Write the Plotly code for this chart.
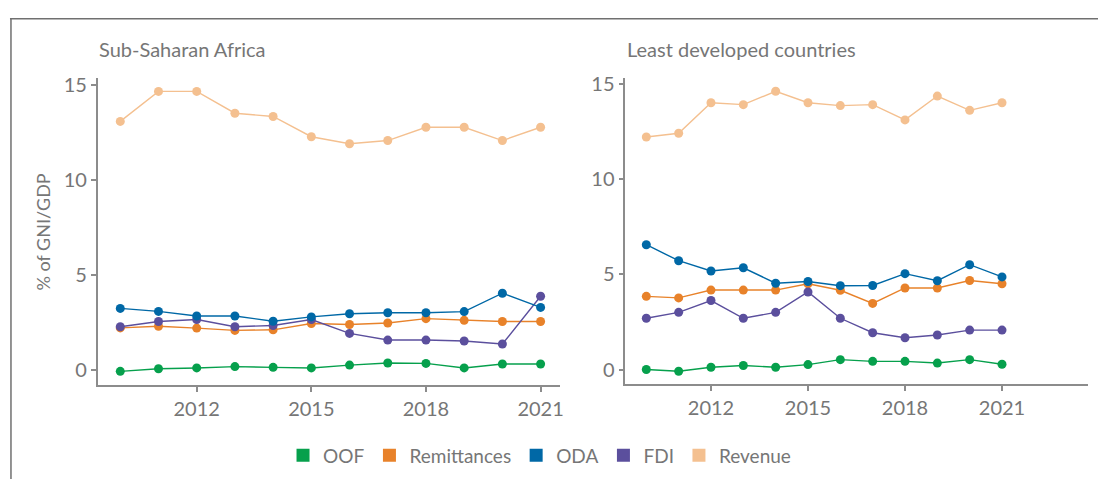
import plotly.graph_objects as go

years = list(range(2010, 2022))

series_names = ["OOF", "Remittances", "ODA", "FDI", "Revenue"]
colors = {"OOF": "#06a04c", "Remittances": "#e8822a", "ODA": "#0068a6",
          "FDI": "#5b4f9d", "Revenue": "#f4c090"}

# Sub-Saharan Africa
ssa_oof = [-0.09, 0.05, 0.09, 0.16, 0.12, 0.09, 0.24, 0.35, 0.33, 0.09, 0.30, 0.30]
ssa_rem = [2.20, 2.29, 2.19, 2.07, 2.10, 2.43, 2.38, 2.46, 2.69, 2.60, 2.54, 2.54]
ssa_oda = [3.23, 3.07, 2.83, 2.83, 2.55, 2.78, 2.95, 3.00, 3.00, 3.06, 4.03, 3.28]
ssa_fdi = [2.26, 2.54, 2.64, 2.26, 2.33, 2.64, 1.91, 1.56, 1.56, 1.51, 1.35, 3.87]
ssa_rev = [13.09, 14.67, 14.67, 13.52, 13.35, 12.28, 11.91, 12.08, 12.78, 12.78, 12.08, 12.78]

# Least developed countries
ldc_oof = [0.00, -0.09, 0.12, 0.21, 0.12, 0.26, 0.52, 0.43, 0.43, 0.34, 0.52, 0.28]
ldc_rem = [3.84, 3.76, 4.17, 4.17, 4.17, 4.50, 4.16, 3.47, 4.28, 4.28, 4.67, 4.50]
ldc_oda = [6.55, 5.71, 5.17, 5.34, 4.53, 4.62, 4.40, 4.41, 5.03, 4.66, 5.50, 4.86]
ldc_fdi = [2.69, 3.00, 3.62, 2.69, 3.00, 4.07, 2.69, 1.93, 1.67, 1.81, 2.07, 2.07]
ldc_rev = [12.20, 12.40, 14.00, 13.90, 14.60, 14.00, 13.85, 13.90, 13.10, 14.35, 13.60, 14.00]

x_ticks = [2012, 2015, 2018, 2021]
y_ticks = [0, 5, 10, 15]

panels = [
    ("Sub-Saharan Africa", {"OOF": ssa_oof, "Remittances": ssa_rem, "ODA": ssa_oda,
                            "FDI": ssa_fdi, "Revenue": ssa_rev}, "x", "y"),
    ("Least developed countries", {"OOF": ldc_oof, "Remittances": ldc_rem, "ODA": ldc_oda,
                                   "FDI": ldc_fdi, "Revenue": ldc_rev}, "x2", "y2"),
]

W, H = 1101, 479
FONT = "Lato"
GREY = "#767676"
AXGREY = "#8c8c8c"

fig = go.Figure()
draw_order = ["Revenue", "OOF", "Remittances", "FDI", "ODA"]
for title, data, xa, ya in panels:
    for name in draw_order:
        fig.add_trace(go.Scatter(
            x=years, y=data[name], mode="lines+markers", name=name,
            xaxis=xa, yaxis=ya, showlegend=False,
            line=dict(color=colors[name], width=1.4),
            marker=dict(color=colors[name], size=9),
            hoverinfo="x+y+name"))

# legend entries (square swatches)
for name in series_names:
    fig.add_trace(go.Scatter(
        x=[None], y=[None], mode="markers", name=name, showlegend=True,
        marker=dict(color=colors[name], size=13, symbol="square")))

def px_x(p):
    return p / W

def px_y(p):
    return 1 - p / H

axis_common = dict(showgrid=False, zeroline=False, showline=True, linecolor=AXGREY,
                   linewidth=1.5, ticks="outside", ticklen=5, tickwidth=1.5,
                   tickcolor=AXGREY, tickfont=dict(family=FONT, size=20, color=GREY))

fig.update_layout(
    width=W, height=H,
    margin=dict(l=0, r=0, t=0, b=0),
    paper_bgcolor="white", plot_bgcolor="white",
    font=dict(family=FONT, color=GREY),
    xaxis=dict(domain=[px_x(98), px_x(562)], range=[2009.41, 2021.52],
               tickvals=x_ticks, anchor="y", **axis_common),
    yaxis=dict(domain=[px_y(384), px_y(72)], range=[-0.83, 15.38],
               tickvals=y_ticks, anchor="x", **axis_common),
    xaxis2=dict(domain=[px_x(627), px_x(1091)], range=[2009.35, 2023.66],
                tickvals=x_ticks, anchor="y2", **axis_common),
    yaxis2=dict(domain=[px_y(383), px_y(72)], range=[-0.78, 15.3],
                tickvals=y_ticks, anchor="x2", **axis_common),
    legend=dict(orientation="h", x=px_x(541), xanchor="center", y=px_y(455),
                yanchor="middle", font=dict(family=FONT, size=19, color=GREY),
                itemsizing="trace", bgcolor="rgba(0,0,0,0)"),
    showlegend=True,
)

fig.add_annotation(text="Sub-Saharan Africa", xref="paper", yref="paper",
                   x=px_x(97), y=px_y(43), xanchor="left", yanchor="middle",
                   showarrow=False, font=dict(family=FONT, size=20, color=GREY))
fig.add_annotation(text="Least developed countries", xref="paper", yref="paper",
                   x=px_x(627), y=px_y(43), xanchor="left", yanchor="middle",
                   showarrow=False, font=dict(family=FONT, size=20, color=GREY))
fig.add_annotation(text="% of GNI/GDP", xref="paper", yref="paper",
                   x=px_x(43), y=px_y(228), xanchor="center", yanchor="middle",
                   textangle=-90, showarrow=False,
                   font=dict(family=FONT, size=18, color=GREY))

# outer frame (top and left edges visible)
fig.add_shape(type="line", xref="paper", yref="paper",
              x0=px_x(10), x1=1.0, y0=px_y(12), y1=px_y(12),
              line=dict(color="#707070", width=1.5))
fig.add_shape(type="line", xref="paper", yref="paper",
              x0=px_x(11), x1=px_x(11), y0=px_y(12), y1=0.0,
              line=dict(color="#707070", width=1.5))

fig.write_html("out.html", config={"displayModeBar": False},
               post_script="document.body.style.margin='0px';document.body.style.overflow='hidden';")
